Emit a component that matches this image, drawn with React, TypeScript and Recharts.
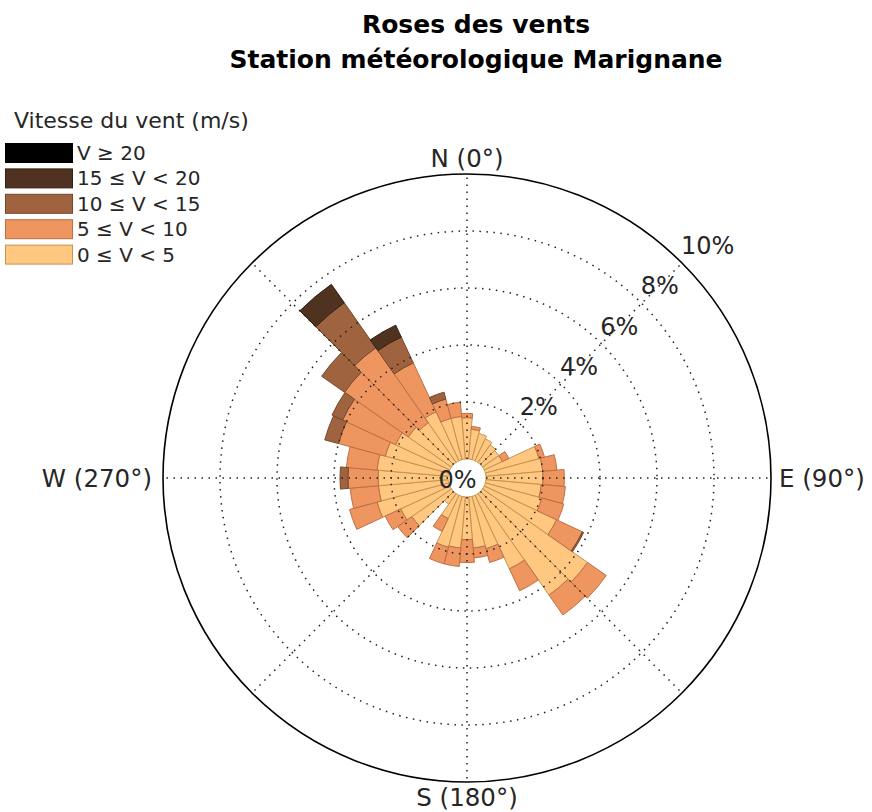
import React from 'react';
import {
  RadialBarChart,
  RadialBar,
  PolarAngleAxis,
  PolarRadiusAxis,
  PolarGrid,
  Legend,
  Sector,
} from 'recharts';

// ---- data -------------------------------------------------------------
const DIRECTIONS = [0, 10, 20, 30, 40, 50, 60, 70, 80, 90, 100, 110, 120, 130, 140, 150, 160, 170,
  180, 190, 200, 210, 220, 230, 240, 250, 260, 270, 280, 290, 300, 310, 320, 330, 340, 350];

// frequency (%) of each speed class per direction (segments, stacked)
const SPEED_0_5 = [1.45, 1.05, 0.95, 0.85, 0.75, 0.7, 0.7, 1.95, 2.0, 2.0, 1.95, 2.05, 2.8, 4.5, 4.35, 2.85, 1.9, 1.8,
  1.5, 1.8, 1.85, 0.9, 0.45, 1.7, 1.9, 2.6, 2.45, 2.45, 2.5, 2.3, 2.1, 1.85, 1.7, 1.9, 1.5, 1.5];
const SPEED_5_10 = [0.15, 0.1, 0, 0, 0, 0, 0.25, 0.2, 0.5, 0.75, 0.85, 0.8, 1.0, 0.8, 0.85, 0.85, 0.5, 0.35,
  0.8, 0.65, 0.6, 0.5, 0, 0.6, 0.6, 1.0, 1.0, 1.06, 1.08, 1.7, 2.05, 2.73, 3.21, 1.89, 0.7, 0.5];
const SPEED_10_15 = [0, 0, 0, 0, 0, 0, 0, 0, 0, 0, 0, 0, 0.05, 0, 0, 0, 0, 0,
  0, 0, 0, 0, 0, 0, 0, 0, 0, 0.28, 0, 0.5, 0.41, 0.98, 1.93, 1.0, 0.25, 0];
const SPEED_15_20 = [0, 0, 0, 0, 0, 0, 0, 0, 0, 0, 0, 0, 0, 0, 0, 0, 0, 0,
  0, 0, 0, 0, 0, 0, 0, 0, 0, 0, 0, 0, 0, 0, 0.79, 0.46, 0, 0];
const SPEED_20_PLUS = [0, 0, 0, 0, 0, 0, 0, 0, 0, 0, 0, 0, 0, 0, 0, 0, 0, 0,
  0, 0, 0, 0, 0, 0, 0, 0, 0, 0, 0, 0, 0, 0, 0, 0, 0, 0];

const SERIES_KEYS = ['s0', 's5', 's10', 's15', 's20'];
const SERIES_LABELS = ['0 ≤ V < 5', '5 ≤ V < 10', '10 ≤ V < 15', '15 ≤ V < 20', 'V ≥ 20'];
const SERIES_FILLS = ['#FFC77F', '#EF955F', '#9F643F', '#503220', '#000000'];
const SERIES_STROKES = ['#C49352', '#BE7044', '#74472B', '#362113', '#000000'];

const RADIUS_TICKS = [0, 2, 4, 6, 8, 10];
const GRID_RADIUS_VALUES = [2, 4, 6, 8];
const GRID_COMPASS_ANGLES = [0, 45, 90, 135, 180, 225, 270, 315];
const CARDINAL_LABELS: Record<string, string> = {
  '0': 'N (0°)',
  '90': 'E (90°)',
  '180': 'S (180°)',
  '270': 'W (270°)',
};

const data = DIRECTIONS.map((d, i) => ({
  dir: String(d),
  s0: SPEED_0_5[i],
  s5: SPEED_5_10[i],
  s10: SPEED_10_15[i],
  s15: SPEED_15_20[i],
  s20: SPEED_20_PLUS[i],
}));

// ---- geometry / style -------------------------------------------------
const W = 872;
const H = 812;
const CX = 467;
const CY = 478;
const INNER = 19;
const OUTER = 304;
const R_MAX = 10;
const FONT = '"DejaVu Sans", Verdana, sans-serif';
const TEXT = '#262626';

const radiusOf = (v: number) => INNER + ((OUTER - INNER) * v) / R_MAX;

function AngleTick(props: any) {
  const { x, y, payload } = props;
  const key = String(payload?.value);
  const label = CARDINAL_LABELS[key];
  if (!label) return <g />;
  const cx = typeof props.cx === 'number' ? props.cx : CX;
  const cy = typeof props.cy === 'number' ? props.cy : CY;
  // place the label on the direction itself (centre of the sector)
  const r = Math.hypot(x - cx, y - cy);
  const rad = ((90 - Number(key)) * Math.PI) / 180;
  const px = cx + r * Math.cos(rad);
  const py = cy - r * Math.sin(rad);
  let anchor: 'start' | 'middle' | 'end' = 'middle';
  let dx = 0;
  let dy = 0;
  if (key === '0') { dy = 1; }
  if (key === '90') { anchor = 'start'; dy = 9; }
  if (key === '180') { dy = 16; }
  if (key === '270') { anchor = 'end'; dx = -3; dy = 9; }
  return (
    <text x={px + dx} y={py + dy} textAnchor={anchor} fontSize={24.5} fill={TEXT} fontFamily={FONT}>
      {label}
    </text>
  );
}

function RadiusTick(props: any) {
  const { x, y, payload } = props;
  const v = payload?.value;
  if (v === 0) {
    return (
      <text x={x - 42} y={y + 23} textAnchor="start" fontSize={24} fill={TEXT} fontFamily={FONT}>
        0%
      </text>
    );
  }
  return (
    <text x={x - 1} y={y - 9} textAnchor="start" fontSize={24} fill={TEXT} fontFamily={FONT}>
      {`${v}%`}
    </text>
  );
}

function BarShape(props: any) {
  if (Math.abs((props.outerRadius ?? 0) - (props.innerRadius ?? 0)) < 0.01) return <g />;
  return <Sector {...props} />;
}

function LegendContent() {
  const order = [4, 3, 2, 1, 0];
  return (
    <svg width={262} height={170} style={{ overflow: 'visible', display: 'block' }}>
      <text x={14} y={28} fontSize={22} fill={TEXT} fontFamily={FONT}>
        Vitesse du vent (m/s)
      </text>
      {order.map((si, row) => (
        <g key={si}>
          <rect
            x={5.5}
            y={43.5 + row * 25.4}
            width={67}
            height={19}
            fill={SERIES_FILLS[si]}
            stroke={SERIES_STROKES[si]}
            strokeWidth={1}
          />
          <text x={77} y={60 + row * 25.4} fontSize={20} fill={TEXT} fontFamily={FONT}>
            {SERIES_LABELS[si]}
          </text>
        </g>
      ))}
    </svg>
  );
}

export default function App() {
  return (
    <div
      style={{
        position: 'fixed',
        left: 0,
        top: 0,
        width: W,
        height: H,
        background: '#ffffff',
        fontFamily: FONT,
        overflow: 'hidden',
      }}
    >
      <RadialBarChart
        width={W}
        height={H}
        data={data}
        layout="centric"
        cx={CX}
        cy={CY}
        innerRadius={INNER}
        outerRadius={OUTER}
        startAngle={85}
        endAngle={-275}
        barCategoryGap="0%"
        margin={{ top: 0, right: 0, bottom: 0, left: 0 }}
      >
        <PolarAngleAxis
          dataKey="dir"
          type="category"
          tick={AngleTick}
          tickLine={false}
          axisLineType="circle"
          axisLine={{ stroke: '#000000', strokeWidth: 1.6 }}
        />
        <PolarRadiusAxis
          type="number"
          domain={[0, R_MAX]}
          ticks={RADIUS_TICKS as any}
          tickCount={6}
          angle={45}
          axisLine={false}
          tickLine={false}
          tick={RadiusTick}
        />
        {SERIES_KEYS.map((k, i) => (
          <RadialBar
            key={k}
            dataKey={k}
            stackId="wind"
            fill={SERIES_FILLS[i]}
            stroke={SERIES_STROKES[i]}
            strokeWidth={1}
            isAnimationActive={false}
            shape={BarShape}
          />
        ))}
        <PolarGrid
          gridType="circle"
          polarAngles={GRID_COMPASS_ANGLES.map((c) => 90 - c)}
          polarRadius={GRID_RADIUS_VALUES.map(radiusOf)}
          stroke="#222222"
          strokeWidth={1.5}
          strokeDasharray="1.5 5.5"
          {...({ zIndex: 600 } as any)}
        />
        <Legend
          content={<LegendContent />}
          layout="vertical"
          align="center"
          verticalAlign="middle"
          wrapperStyle={{ left: 0, top: 100, width: 262, height: 170 }}
        />
      </RadialBarChart>
      <svg
        width={W}
        height={90}
        style={{ position: 'absolute', left: 0, top: 0, pointerEvents: 'none' }}
      >
        <text x={476} y={33} textAnchor="middle" fontSize={25} fontWeight="bold" fill="#000" fontFamily={FONT}>
          Roses des vents
        </text>
        <text x={476} y={68} textAnchor="middle" fontSize={25} fontWeight="bold" fill="#000" fontFamily={FONT}>
          Station météorologique Marignane
        </text>
      </svg>
    </div>
  );
}
